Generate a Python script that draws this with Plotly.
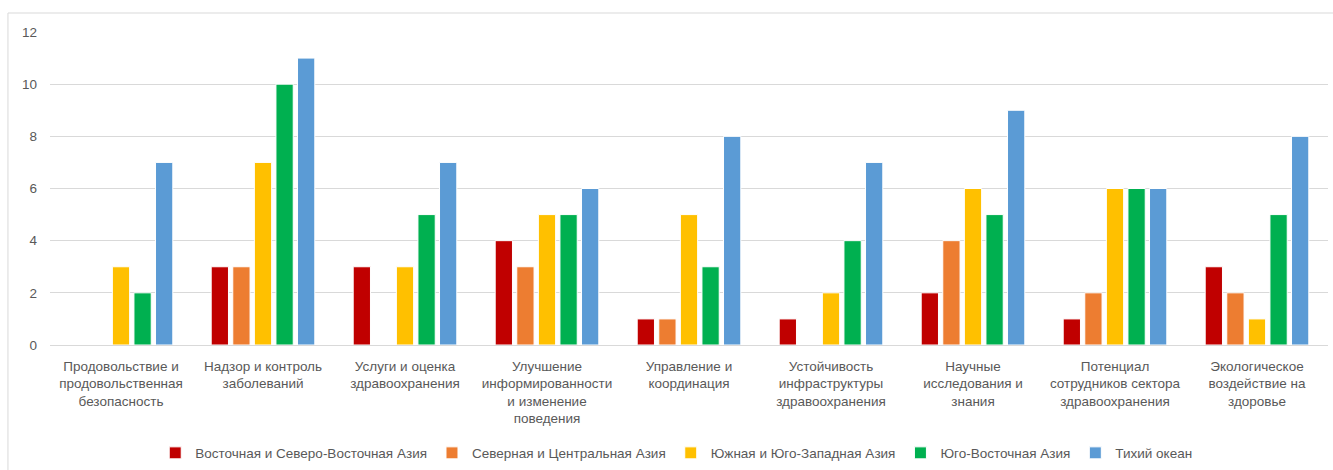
import plotly.graph_objects as go

categories = [
    "Продовольствие и<br>продовольственная<br>безопасность",
    "Надзор и контроль<br>заболеваний",
    "Услуги и оценка<br>здравоохранения",
    "Улучшение<br>информированности<br>и изменение<br>поведения",
    "Управление и<br>координация",
    "Устойчивость<br>инфраструктуры<br>здравоохранения",
    "Научные<br>исследования и<br>знания",
    "Потенциал<br>сотрудников сектора<br>здравоохранения",
    "Экологическое<br>воздействие на<br>здоровье",
]

series_names = [
    "Восточная и Северо-Восточная Азия",
    "Северная и Центральная Азия",
    "Южная и Юго-Западная Азия",
    "Юго-Восточная Азия",
    "Тихий океан",
]

east_ne_asia = [0, 3, 3, 4, 1, 1, 2, 1, 3]
north_central_asia = [0, 3, 0, 3, 1, 0, 4, 2, 2]
south_sw_asia = [3, 7, 3, 5, 5, 2, 6, 6, 1]
southeast_asia = [2, 10, 5, 5, 3, 4, 5, 6, 5]
pacific = [7, 11, 7, 6, 8, 7, 9, 6, 8]

colors = ["#C00000", "#ED7D31", "#FFC000", "#00B050", "#5B9BD5"]

values = [east_ne_asia, north_central_asia, south_sw_asia, southeast_asia, pacific]

FONT = "Liberation Sans"
GRAY = "#595959"

fig = go.Figure()
for name, vals, col in zip(series_names, values, colors):
    fig.add_trace(go.Bar(
        x=categories, y=vals, name=name,
        marker=dict(color=col, line=dict(color="white", width=1)),
        hoverinfo="skip",
    ))

fig.update_layout(
    width=1333, height=470,
    margin=dict(l=50, r=5, t=32, b=125, autoexpand=False),
    paper_bgcolor="white", plot_bgcolor="white",
    barmode="group", bargap=0.24, bargroupgap=0.2,
    font=dict(family=FONT, color=GRAY, size=13.5),
    showlegend=True,
    legend=dict(
        orientation="h", x=0.49, xanchor="center",
        yref="container", y=0.036, yanchor="middle",
        font=dict(family=FONT, color=GRAY, size=13.5),
        itemwidth=30, traceorder="normal",
    ),
    xaxis=dict(
        showgrid=False, showline=False, zeroline=False, automargin=False,
        tickfont=dict(family=FONT, color=GRAY, size=13.5),
        ticks="", ticklabelstandoff=11,
    ),
    yaxis=dict(
        range=[0, 12], dtick=2, showgrid=True, gridcolor="#D9D9D9", gridwidth=1,
        zeroline=True, zerolinecolor="#D9D9D9", zerolinewidth=1,
        showline=False, ticks="", automargin=False,
        tickfont=dict(family=FONT, color=GRAY, size=13.5),
        ticklabelstandoff=12,
    ),
    shapes=[dict(
        type="rect", xref="paper", yref="paper",
        x0=-0.0329, x1=1.01, y0=-0.45, y1=1.0607,
        line=dict(color="#D9D9D9", width=1), fillcolor="rgba(0,0,0,0)",
    )],
)

fig.write_html("out.html")
